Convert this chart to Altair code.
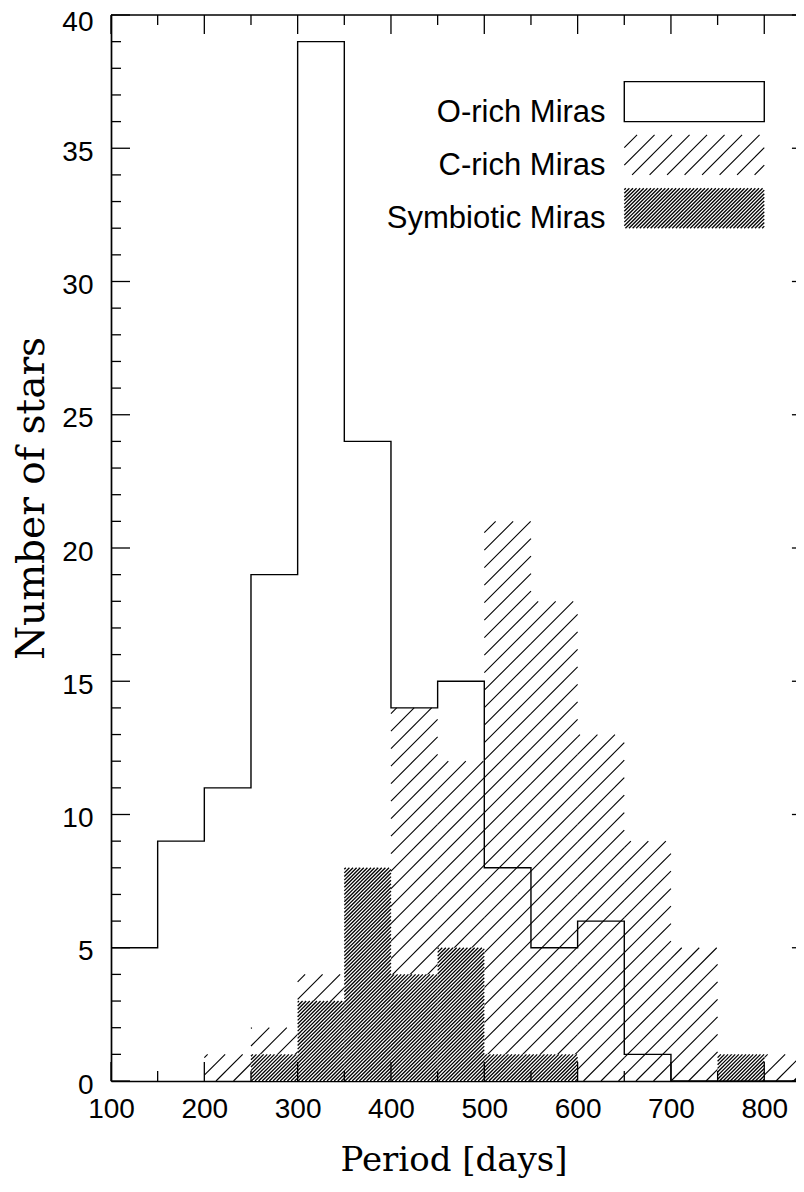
import altair as alt
import pandas as pd
import numpy as np

# ---------------- data ----------------
bin_lo = [100, 150, 200, 250, 300, 350, 400, 450, 500, 550, 600, 650, 700, 750, 800]
bin_hi = [150, 200, 250, 300, 350, 400, 450, 500, 550, 600, 650, 700, 750, 800, 850]
o_rich = [5, 9, 11, 19, 39, 24, 14, 15, 8, 5, 6, 1, 0, 0, 0]
c_rich = [0, 0, 1, 2, 4, 8, 14, 12, 21, 18, 13, 9, 5, 1, 1]
symbiotic = [0, 0, 0, 1, 3, 8, 4, 5, 1, 1, 0, 0, 0, 1, 0]

x_major_ticks = [100, 200, 300, 400, 500, 600, 700, 800]
x_minor_ticks = [150, 250, 350, 450, 550, 650, 750, 850]
y_major_ticks = [0, 5, 10, 15, 20, 25, 30, 35, 40]
y_minor_ticks = [v for v in range(0, 41) if v % 5 != 0]

legend_labels = ["O-rich Miras", "C-rich Miras", "Symbiotic Miras"]

# ---------------- layout / style ----------------
W, H = 685, 1066
PAD_TOP = 7
X_DOMAIN = [100, 834]
Y_DOMAIN = [0, 40]
KX = W / (X_DOMAIN[1] - X_DOMAIN[0])
KY = H / (Y_DOMAIN[1] - Y_DOMAIN[0])
FRAME_RIGHT = bin_hi[-1]
LEG_BOX_X = [650, 800]
LEG_BOX_BOTTOM = [36, 34, 32]
LEG_BOX_H = 1.5
LEG_TEXT_X = 630
C_SPACING = 17.5
S_SPACING = 3.6
LABEL_FONT = "Liberation Sans"
TITLE_FONT = "DejaVu Serif"
BLACK = "#000000"

xs = alt.Scale(domain=X_DOMAIN, nice=False, zero=False)
ys = alt.Scale(domain=Y_DOMAIN, nice=False, zero=False)


def hatch_segments(x0, x1, y0, y1, spacing):
    u0, u1 = (x0 - X_DOMAIN[0]) * KX, (x1 - X_DOMAIN[0]) * KX
    v0, v1 = y0 * KY, y1 * KY
    segs = []
    k_lo = int(np.floor((u0 - v1) / spacing)) - 1
    k_hi = int(np.ceil((u1 - v0) / spacing)) + 1
    for k in range(k_lo, k_hi + 1):
        c = k * spacing
        ua = max(u0, v0 + c)
        ub = min(u1, v1 + c)
        if ub - ua > 0.3:
            segs.append({"xa": X_DOMAIN[0] + ua / KX, "ya": (ua - c) / KY,
                         "xb": X_DOMAIN[0] + ub / KX, "yb": (ub - c) / KY})
    return segs


c_segs, s_segs = [], []
for lo, hi, c, s in zip(bin_lo, bin_hi, c_rich, symbiotic):
    if c > 0:
        c_segs += hatch_segments(lo, hi, 0, c, C_SPACING)
    if s > 0:
        s_segs += hatch_segments(lo, hi, 0, s, S_SPACING)
# legend swatches
c_segs += hatch_segments(LEG_BOX_X[0], LEG_BOX_X[1], LEG_BOX_BOTTOM[1], LEG_BOX_BOTTOM[1] + LEG_BOX_H, C_SPACING)
s_segs += hatch_segments(LEG_BOX_X[0], LEG_BOX_X[1], LEG_BOX_BOTTOM[2], LEG_BOX_BOTTOM[2] + LEG_BOX_H, S_SPACING)

df_c = pd.DataFrame(c_segs)
df_s = pd.DataFrame(s_segs)
df_sym_bg = pd.DataFrame({"lo": bin_lo, "hi": bin_hi, "n": symbiotic})
df_sym_bg = df_sym_bg[df_sym_bg.n > 0]
df_o = pd.DataFrame({"x": bin_lo + [bin_hi[-1]], "n": o_rich + [0]})
df_leg = pd.DataFrame({"label": legend_labels, "ly": LEG_BOX_BOTTOM, "lx": [LEG_TEXT_X] * 3})
df_leg_box = pd.DataFrame({"x0": [LEG_BOX_X[0]], "x1": [LEG_BOX_X[1]],
                           "y0": [LEG_BOX_BOTTOM[0]], "y1": [LEG_BOX_BOTTOM[0] + LEG_BOX_H]})
df_frame = pd.DataFrame({"x0": [bin_lo[0]], "x1": [FRAME_RIGHT]})

c_layer = alt.Chart(df_c).mark_rule(color=BLACK, strokeWidth=1.1).encode(
    x=alt.X("xa:Q", scale=xs), y=alt.Y("ya:Q", scale=ys),
    x2="xb:Q", y2="yb:Q")

sym_bg = alt.Chart(df_sym_bg).mark_rect(fill="white", strokeWidth=0).encode(
    x=alt.X("lo:Q", scale=xs), x2="hi:Q",
    y=alt.Y("n:Q", scale=ys), y2=alt.datum(0))

s_layer = alt.Chart(df_s).mark_rule(color=BLACK, strokeWidth=1.3).encode(
    x=alt.X("xa:Q", scale=xs), y=alt.Y("ya:Q", scale=ys),
    x2="xb:Q", y2="yb:Q")

o_layer = alt.Chart(df_o).mark_line(interpolate="step-after", color=BLACK, strokeWidth=1.4).encode(
    x=alt.X("x:Q", scale=xs, title="Period [days]", axis=alt.Axis(
        values=x_major_ticks, ticks=False, grid=False, domain=True,
        domainColor=BLACK, domainWidth=1.7, labelFont=LABEL_FONT, labelFontSize=28,
        labelColor=BLACK, labelPadding=14, labelFlush=False,
        titleFont=TITLE_FONT, titleFontSize=34,
        titleFontWeight="normal", titleColor=BLACK, titleY=89,
        titleBaseline="alphabetic")),
    y=alt.Y("n:Q", scale=ys, title="Number of stars", axis=alt.Axis(
        values=y_major_ticks, ticks=False, grid=False, domain=True,
        domainColor=BLACK, domainWidth=1.7, labelFont=LABEL_FONT, labelFontSize=28,
        labelColor=BLACK, labelPadding=18,
        labelOffset={"condition": {"test": f"datum.value >= {Y_DOMAIN[1]}", "value": 7},
                     "value": 4},
        labelFlush=False,
        titleFont=TITLE_FONT,
        titleFontSize=39, titleFontWeight="normal", titleColor=BLACK,
        titleAngle=270, titleX=-80, titleY=498 - 8 - PAD_TOP, titleBaseline="middle",
        titleAlign="center")))

leg_box = alt.Chart(df_leg_box).mark_rect(fill="white", stroke=BLACK, strokeWidth=1.4).encode(
    x=alt.X("x0:Q", scale=xs), x2="x1:Q",
    y=alt.Y("y0:Q", scale=ys), y2="y1:Q")

leg_text = alt.Chart(df_leg).mark_text(align="right", baseline="alphabetic", font=LABEL_FONT,
                                        fontSize=31, color=BLACK).encode(
    x=alt.X("lx:Q", scale=xs), y=alt.Y("ly:Q", scale=ys), text="label:N")

top_frame = alt.Chart(df_frame).mark_rule(color=BLACK, strokeWidth=1.7).encode(
    x=alt.X("x0:Q", scale=xs), x2="x1:Q", y=alt.value(0))


def tlist(vals):
    return pd.DataFrame({"t": vals})


tick_layers = []
for vals, ln in [(x_major_ticks, 19), (x_minor_ticks, 10)]:
    tick_layers.append(alt.Chart(tlist(vals)).mark_rule(color=BLACK, strokeWidth=1.3).encode(
        x=alt.X("t:Q", scale=xs), y=alt.value(0), y2=alt.value(ln)))
    tick_layers.append(alt.Chart(tlist(vals)).mark_rule(color=BLACK, strokeWidth=1.3).encode(
        x=alt.X("t:Q", scale=xs), y=alt.value(H), y2=alt.value(H - ln)))
for vals, ln in [(y_major_ticks, 19), (y_minor_ticks, 10)]:
    tick_layers.append(alt.Chart(tlist(vals)).mark_rule(color=BLACK, strokeWidth=1.3).encode(
        y=alt.Y("t:Q", scale=ys), x=alt.value(0), x2=alt.value(ln)))
    tick_layers.append(alt.Chart(tlist(vals)).mark_rule(color=BLACK, strokeWidth=1.3, x2Offset=-ln)
                       .transform_calculate(xr=str(FRAME_RIGHT)).encode(
        y=alt.Y("t:Q", scale=ys), x=alt.X("xr:Q", scale=xs), x2="xr:Q"))

chart = alt.layer(c_layer, sym_bg, s_layer, o_layer, leg_box, leg_text, top_frame,
                  *tick_layers).properties(
    width=W, height=H,
    background="white",
    autosize=alt.AutoSizeParams(type="none"),
    padding={"left": 103, "top": PAD_TOP, "right": 0, "bottom": 99},
).configure_view(stroke=None).configure_axis(
    grid=False, ticks=False, domainColor=BLACK, labelColor=BLACK, titleColor=BLACK,
    labelFont=LABEL_FONT, titleFont=TITLE_FONT, titleFontWeight="normal")

chart.save("out.html", embed_options={"renderer": "svg", "actions": False})
